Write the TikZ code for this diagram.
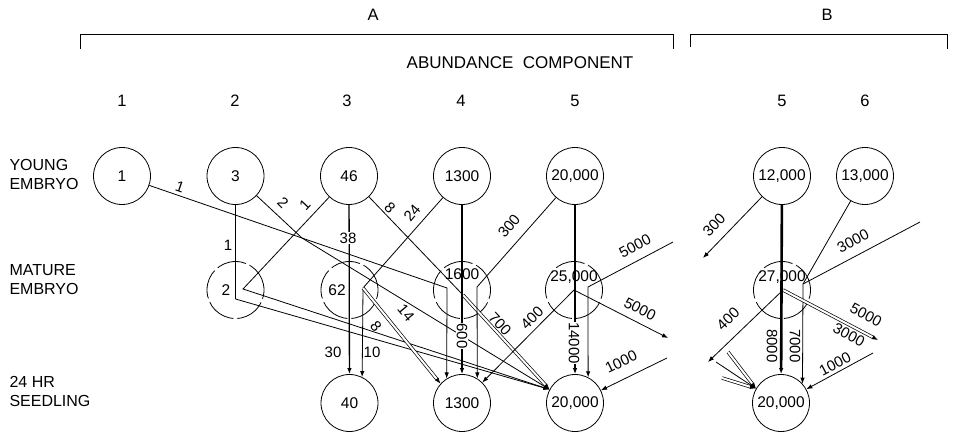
\documentclass[tikz,border=0pt]{standalone}
\usepackage{fontspec}
\setmainfont{Liberation Sans}
\usetikzlibrary{arrows.meta}
\begin{document}
\begin{tikzpicture}[x=1pt,y=-1pt,
  every node/.style={font=\fontsize{15.5}{17}\selectfont},
  hd/.style={font=\fontsize{16.5}{18}\selectfont},
  comp/.style={circle,draw,line width=0.8pt,minimum size=57pt,inner sep=0pt},
  matc/.style={circle,draw,line width=0.8pt,minimum size=57pt,inner sep=0pt,dash pattern=on 30pt off 4pt},
  ln/.style={line width=0.8pt},
  mid/.style={line width=1.3pt},
  thk/.style={line width=1.9pt},
  dbl/.style={double,double distance=2pt,line width=0.7pt},
  tip/.style={-{Latex[length=6pt,width=4.5pt]}},
  wt/.style={font=\fontsize{15}{15}\selectfont,inner sep=0pt},
  wtw/.style={wt,fill=white,inner sep=0.5pt},
  lbl/.style={align=left,anchor=west,font=\fontsize{16}{19}\selectfont}
]
\useasboundingbox (0,0) rectangle (955,433);

% headings and brackets
\node[hd] (hA) at (373,15) {A};
\node[hd] (hB) at (827,15) {B};
\draw[ln] (80,49) -- (80,34) -- (673,34) -- (673,49);
\draw[ln] (690,47) -- (690,34) -- (947,34) -- (947,49);
\node[font=\fontsize{17}{18}\selectfont] (hAC) at (520,63) {ABUNDANCE\ \ COMPONENT};
\node[hd] (c1) at (122,101) {1};
\node[hd] (c2) at (235,101) {2};
\node[hd] (c3) at (347,101) {3};
\node[hd] (c4) at (461,101) {4};
\node[hd] (c5) at (575,101) {5};
\node[hd] (cb5) at (782,101) {5};
\node[hd] (cb6) at (865,101) {6};

% row labels
\node[lbl] (rY) at (6,174) {YOUNG\\EMBRYO};
\node[lbl] (rM) at (6,280) {MATURE\\EMBRYO};
\node[lbl] (rS) at (6,391) {24 HR\\SEEDLING};

% young embryo
\node[comp] (Y1) at (122,176) {1};
\node[comp] (Y2) at (235.5,176) {3};
\node[comp] (Y3) at (349,176) {46};
\node[comp] (Y4) at (462,176) {1300};
\node[comp] (Y5) at (575,176) {20,000};
\node[comp] (YB5) at (782,176) {12,000};
\node[comp] (YB6) at (865,176) {13,000};

% mature embryo
\node[matc] (M2) at (235.5,290) {};
\node[matc] (M3) at (349.5,290) {};
\node[matc] (M4) at (462,290) {};
\node[matc] (M5) at (574,290) {};
\node[matc] (MB) at (782,290) {};
\node (t2) at (226,290) {2};
\node (t3) at (337,290) {62};
\node (t4) at (462,274) {1600};
\node (t5) at (574,277) {25,000};
\node (tB) at (782,277) {27,000};

% seedling
\node[comp] (S3) at (349.5,403) {40};
\node[comp] (S4) at (462,403) {1300};
\node[comp] (S5) at (575,403) {20,000};
\node[comp] (SB) at (781,403) {20,000};

% junction points
\coordinate (J2a) at (235.5,299);
\coordinate (J2b) at (243,289);
\coordinate (J3) at (363,288);
\coordinate (J3b) at (302,238);
\coordinate (J4a) at (447,288);
\coordinate (J4b) at (477,287);
\coordinate (J4c) at (463,295);
\coordinate (J5) at (574,290);
\coordinate (J5b) at (588,287);
\coordinate (oA) at (668,338);
\coordinate (iA) at (673,242);
\coordinate (iB) at (667,358);
\coordinate (JB) at (783,290);
\coordinate (JBb) at (803,284);
\coordinate (oB1) at (703,258);
\coordinate (oB2) at (878,340);
\coordinate (oB3) at (708,362);
\coordinate (iC) at (920,222);
\coordinate (iD) at (873,353);
\coordinate (sA) at (728,352);
\coordinate (sB) at (722,378);
\coordinate (sC) at (716,362);

% connectors, part A
\draw[ln,tip] (Y1) -- (J4a) -- (S4.122);
\draw[thk] (Y2) -- (J2a);
\draw[ln,tip] (J2a) -- (S5.152);
\draw[ln,tip] (Y3) -- (J2b) -- (S5.152);
\draw[ln,tip] (Y2) -- (J3b) -- (S5.152);
\draw[mid,tip] (Y3) -- (S3);
\draw[ln] (Y3) -- (J4c);
\draw[dbl,tip] (J4c) -- (S5.152);
\draw[ln] (Y4) -- (J3);
\draw[ln,tip] (J3) -- (S3.64);
\draw[dbl,tip] (J3) -- (S4.138);
\draw[thk,tip] (Y4) -- (S4);
\draw[ln,tip] (Y5) -- (J4b) -- (S4.58);
\draw[thk,tip] (Y5) -- (S5);
\draw[ln,tip] (J5) -- (S4);
\draw[ln,tip] (J5) -- (oA);
\draw[ln,tip] (iA) -- (J5b) -- (S5.63);
\draw[ln,tip] (iB) -- (S5);

% connectors, part B
\draw[ln,tip] (YB5) -- (oB1);
\draw[line width=2.6pt,tip] (YB5) -- (SB);
\draw[ln,tip] (YB6) -- (JBb) -- (SB.42);
\draw[ln] (iC) -- (JBb);
\draw[dbl,tip] (JB) -- (oB2);
\draw[ln,tip] (JB) -- (oB3);
\draw[ln,tip] (iD) -- (SB);
\draw[dbl,tip] (sA) -- (SB.150);
\draw[dbl,tip] (sB) -- (SB.150);
\draw[ln,tip] (sC) -- (SB.150);

% weights, part A
\node[wt,rotate=-19] (w1) at (180,187) {1};
\node[wt] (w2) at (228,245) {1};
\node[wt,rotate=47] (w3) at (305,205) {1};
\node[wt,rotate=-45] (w4) at (283,203) {2};
\node[wtw] (w5) at (348,238) {38};
\node[wt] (w6) at (333,352) {30};
\node[wt,rotate=-45] (w7) at (390,208) {8};
\node[wt,rotate=50] (w8) at (412,213) {24};
\node[wt] (w9) at (372,352) {10};
\node[wt,rotate=-50] (w10) at (376,326) {8};
\node[wt,rotate=-50] (w10b) at (406,313) {14};
\node[wtw,rotate=-90] (w11) at (462,336) {600};
\node[wt,rotate=50] (w12) at (509,226) {300};
\node[wtw,rotate=-90] (w13) at (574,343) {14000};
\node[wt,rotate=45] (w14) at (532,318) {400};
\node[wt,rotate=-47] (w15) at (500,324) {700};
\node[wt,rotate=-27] (w16) at (640,309) {5000};
\node[wt,rotate=28] (w17) at (635,246) {5000};
\node[wt,rotate=26] (w18) at (621,362) {1000};

% weights, part B
\node[wt,rotate=46] (w19) at (714,225) {300};
\node[wtw,rotate=-90] (w20) at (772,346) {8000};
\node[wtw,rotate=-90] (w21) at (795,346) {7000};
\node[wt,rotate=28] (w22) at (853,241) {3000};
\node[wt,rotate=-28] (w23) at (866,315) {5000};
\node[wt,rotate=-28] (w24) at (849,335) {3000};
\node[wt,rotate=44] (w25) at (728,319) {400};
\node[wt,rotate=28] (w26) at (835,364) {1000};
\end{tikzpicture}
\end{document}
